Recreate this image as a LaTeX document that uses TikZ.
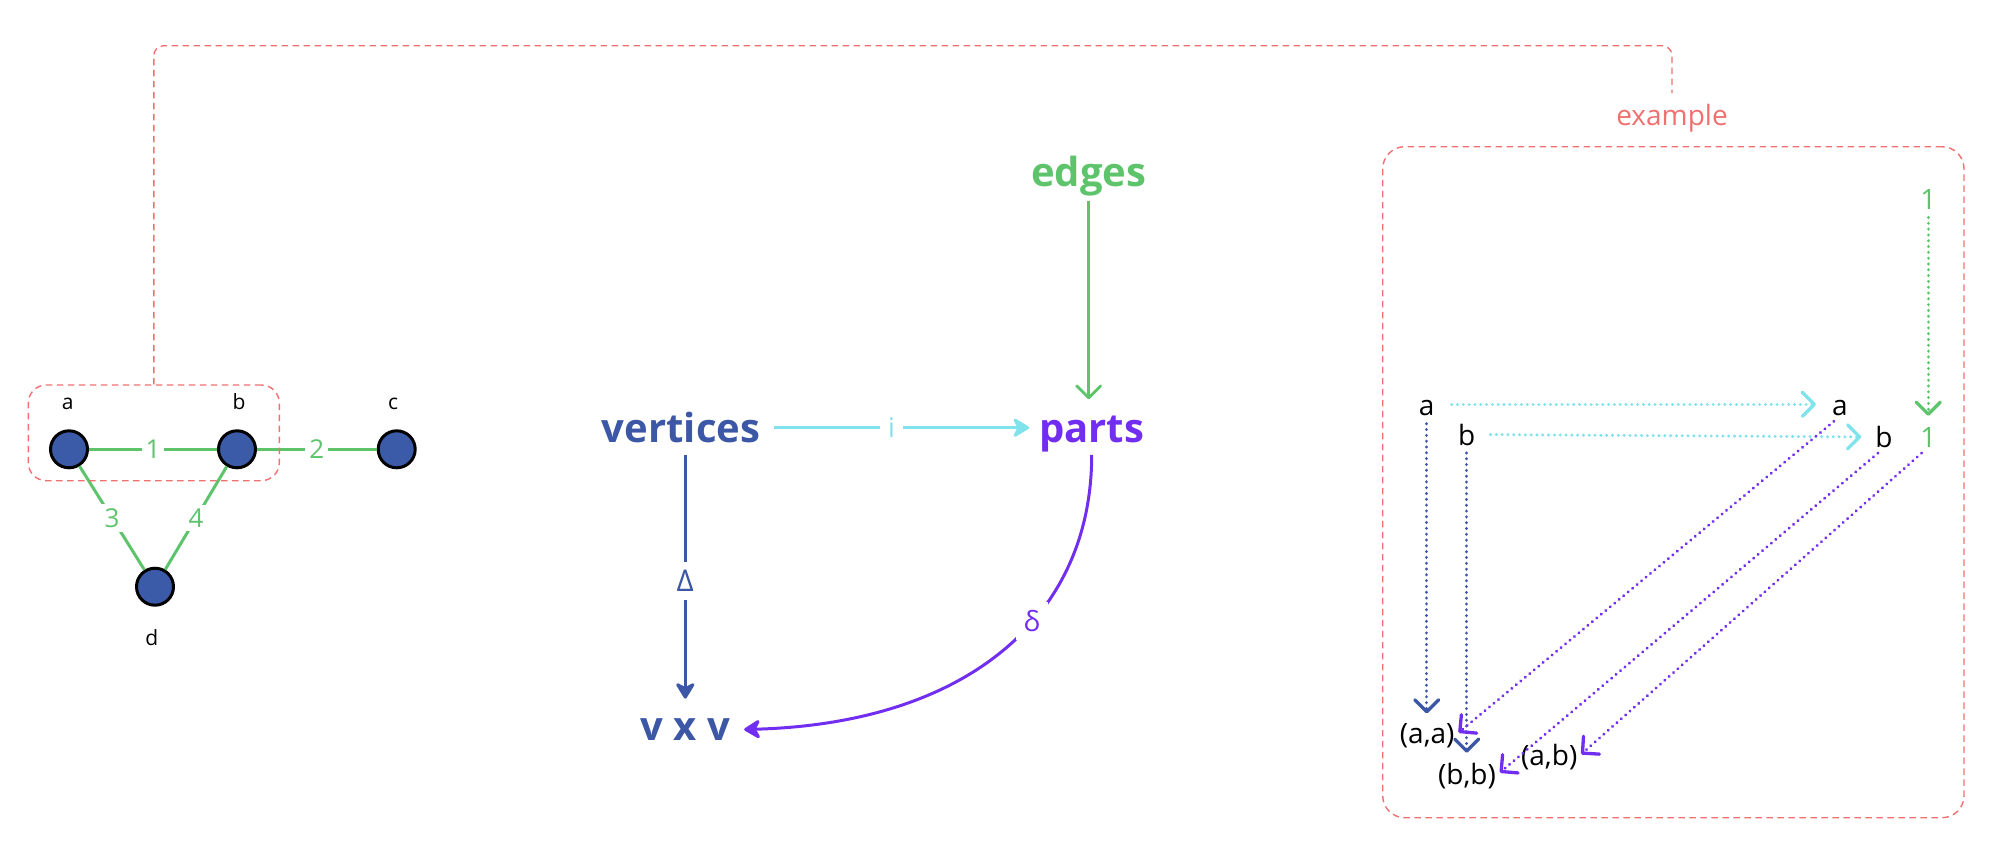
\documentclass[tikz,border=0pt]{standalone}
\usepackage{fontspec}
\setmainfont{Open Sans}
\usetikzlibrary{arrows.meta}
\definecolor{cgreen}{RGB}{94,196,107}
\definecolor{cblue}{RGB}{59,87,165}
\definecolor{cfill}{RGB}{59,91,168}
\definecolor{ccyan}{RGB}{128,226,235}
\definecolor{cpurple}{RGB}{114,46,240}
\definecolor{cred}{RGB}{240,112,112}
\tikzset{
  vtx/.style={circle, draw=black, fill=cfill, line width=3pt, minimum size=37pt, inner sep=0pt},
  vlab/.style={font=\fontsize{21}{24}\selectfont, text=black, inner sep=0pt, anchor=base},
  gedge/.style={draw=cgreen, line width=3pt},
  elab/.style={fill=white, text=cgreen, font=\fontsize{26}{30}\selectfont, inner sep=4pt},
  reddash/.style={draw=cred, line width=1.4pt, dash pattern=on 6.5pt off 4.5pt},
  bigt/.style={font=\fontsize{40}{48}\selectfont\bfseries, inner sep=3pt, anchor=base},
  mlab/.style={fill=white, font=\fontsize{28}{32}\selectfont, inner sep=8pt},
  etxt/.style={font=\fontsize{28}{32}\selectfont, inner sep=0pt},
  fhead/.style={-{Stealth[length=19pt,width=23pt,inset=6pt,round]}},
  ohead/.style={-{Straight Barb[length=12pt,width=24pt,round]}},
  dotl/.style={line width=3.3pt, line cap=round, dash pattern=on 0.01pt off 5.8pt},
}
\begin{document}
\begin{tikzpicture}[x=1pt,y=-1pt]
\useasboundingbox (0,0) rectangle (1992,854);

% ---- left graph ----
\node[vtx] (na) at (69,449.3) {};
\node[vtx] (nb) at (237,449.3) {};
\node[vtx] (nc) at (396.7,449.3) {};
\node[vtx] (nd) at (155,586.7) {};
\node[vlab] (la) at (67.7,409.5) {a};
\node[vlab] (lb) at (239,409.5) {b};
\node[vlab] (lc) at (393,409.5) {c};
\node[vlab] (ld) at (151.7,645) {d};
\draw[gedge] (na) -- node[elab] {1} (nb);
\draw[gedge] (nb) -- node[elab] {2} (nc);
\draw[gedge] (na) -- node[elab] {3} (nd);
\draw[gedge] (nb) -- node[elab] {4} (nd);
\node[reddash, rounded corners=18pt, minimum width=251pt, minimum height=95.7pt, inner sep=0pt] (abbox) at (153.8,432.85) {};

% ---- connector to example ----
\node[font=\fontsize{28}{32}\selectfont, text=cred, anchor=base, inner sep=11pt] (exlabel) at (1672,125.7) {example};
\coordinate (ctop) at (1672,45.7);
\draw[reddash, rounded corners=10pt] (abbox.north) |- (ctop) -- (exlabel.north);

% ---- middle diagram ----
\node[bigt, text=cgreen] (edges) at (1088.7,186.7) {edges};
\node[bigt, text=cblue] (vertices) at (681,442.7) {vertices};
\node[bigt, text=cpurple] (parts) at (1091.7,442) {parts};
\node[bigt, text=cblue] (vxv) at (685.3,740.7) {v x v};

\draw[cgreen, line width=2.8pt, ohead, shorten <=1pt, shorten >=13pt] (edges.south) -- (edges.south |- parts.north);
\draw[ccyan, line width=3pt, fhead, shorten <=11pt, shorten >=7pt] (vertices.east) -- node[mlab, text=ccyan, pos=0.47, font=\fontsize{27}{30}\selectfont, inner ysep=2pt] {i} (vertices.east -| parts.west);
\draw[cblue, line width=3pt, fhead, shorten <=9pt, shorten >=17pt] (vertices.south -| vxv.north) -- node[mlab, text=cblue, inner ysep=8pt, inner xsep=2pt, font=\fontsize{30}{34}\selectfont] {Δ} (vxv.north);
\draw[cpurple, line width=3pt, fhead, shorten >=11pt] (parts.south) .. controls +(0,165) and +(230,-6) .. node[mlab, text=cpurple, pos=0.4] {δ} (vxv.east);

% ---- example box ----
\node[reddash, rounded corners=22pt, minimum width=581.3pt, minimum height=671pt, inner sep=0pt] (exbox) at (1673.35,482.2) {};
\node[etxt] (ea1) at (1426.7,408.3) {a};
\node[etxt] (eb1) at (1466.7,434.5) {b};
\node[etxt] (ea2) at (1840,408.3) {a};
\node[etxt] (eb2) at (1884,437) {b};
\node[etxt, text=cgreen] (eone1) at (1928.3,199.7) {1};
\node[etxt, text=cgreen] (eone2) at (1928.3,437) {1};
\node[etxt] (eaa) at (1427.2,735.8) {(a,a)};
\node[etxt] (ebb) at (1467,775.8) {(b,b)};
\node[etxt] (eab) at (1549.2,757.5) {(a,b)};

\draw[dotl, ccyan, ohead, shorten <=17pt, shorten >=16pt] ([yshift=4pt]ea1.east) -- ([yshift=4pt]ea1.east -| ea2.west);
\draw[dotl, ccyan, ohead, shorten <=15pt, shorten >=14pt] (eb1.east) -- (eb2.west);
\draw[dotl, cblue, ohead, shorten <=7.5pt, shorten >=10pt] (ea1.south) -- (ea1.south |- eaa.north);
\draw[dotl, cblue, ohead, shorten <=7.5pt, shorten >=10pt] (eb1.south) -- (eb1.south |- ebb.north);
\draw[dotl, cgreen, ohead, shorten <=7.6pt, shorten >=11pt] (eone1.south) -- (eone2.north);
\draw[dotl, cpurple, ohead, shorten <=8pt, shorten >=5pt] (ea2.south) -- (eaa.east);
\draw[dotl, cpurple, ohead, shorten <=8pt, shorten >=5pt] (eb2.south) -- (ebb.east);
\draw[dotl, cpurple, ohead, shorten <=9pt, shorten >=5pt] (eone2.south) -- (eab.east);
\end{tikzpicture}
\end{document}
